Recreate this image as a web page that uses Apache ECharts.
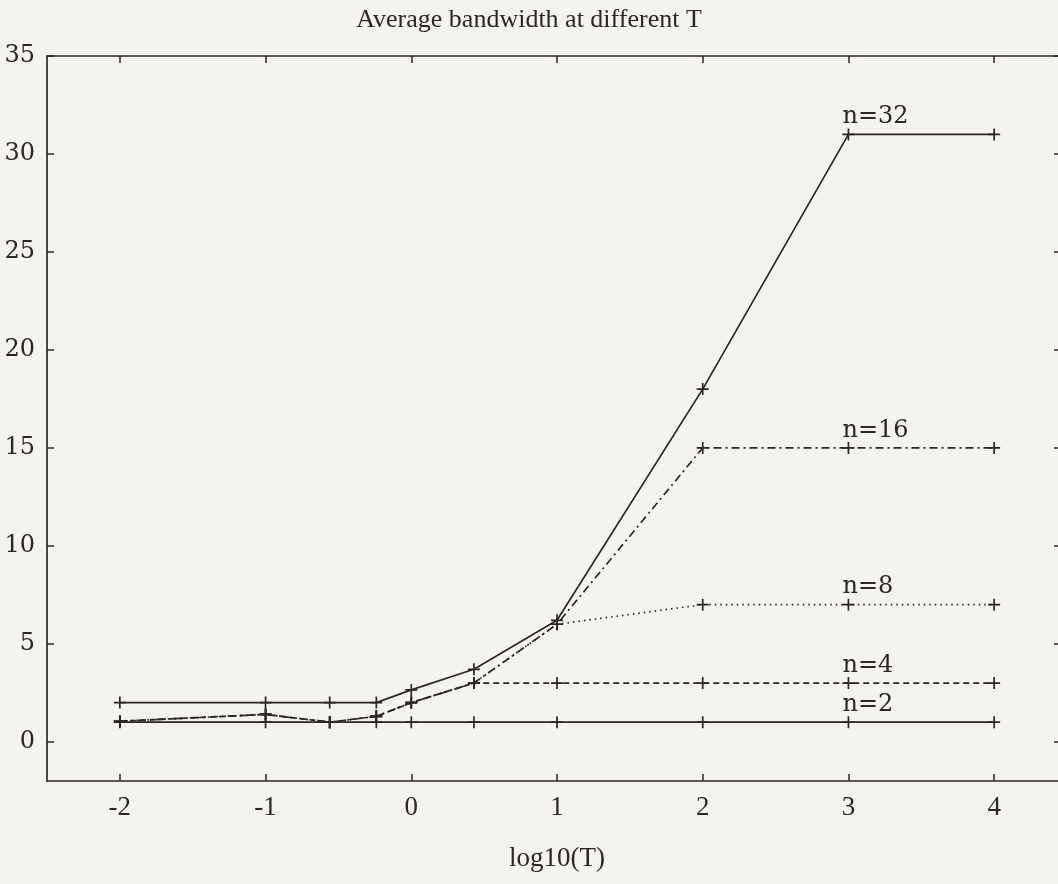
<!DOCTYPE html>
<html>
<head>
<meta charset="utf-8">
<script src="https://cdn.jsdelivr.net/npm/echarts@6/dist/echarts.min.js"></script>
<style>
    html, body { margin: 0; padding: 0; background: #f4f3f0; }
    #main { width: 1058px; height: 884px; }
</style>
</head>
<body>
<div id="main"></div>
<script>
// log10(T) sample points
var logT = [-2, -1, -0.56, -0.24, 0, 0.43, 1, 2, 3, 4];
// average bandwidth per n
var n2  = [1, 1, 1, 1, 1, 1, 1, 1, 1, 1];
var n4  = [1.05, 1.4, 1, 1.3, 2, 3, 3, 3, 3, 3];
var n8  = [1.05, 1.4, 1, 1.3, 2, 3, 6, 7, 7, 7];
var n16 = [1.05, 1.4, 1, 1.3, 2, 3, 6, 15, 15, 15];
var n32 = [2, 2, 2, 2, 2.65, 3.7, 6.2, 18, 31, 31];
var xTicks = [-2, -1, 0, 1, 2, 3, 4];
var yTicks = [0, 5, 10, 15, 20, 25, 30, 35];

var ink = '#2b2727';
var times = 'Liberation Serif';
var wide = 'DejaVu Serif';
var cross = 'path://M0,6L12,6M6,0L6,12';

//拼数据
function pairs(ys) {
    var out = [];
    for (var i = 0; i < logT.length; i++) {
        out.push([logT[i], ys[i]]);
    }
    return out;
}

function makeSeries(name, ys, dash) {
    return {
        name: name,
        type: 'line',
        data: pairs(ys),
        symbol: cross,
        symbolSize: 12,
        itemStyle: { color: 'none', borderColor: ink, borderWidth: 1.7 },
        lineStyle: { color: ink, width: 1.7, type: dash },
        label: {
            show: true,
            formatter: function (p) { return p.dataIndex == 8 ? name : ''; },
            position: 'top',
            align: 'left',
            distance: 0,
            offset: [-6, 3],
            fontFamily: wide,
            fontSize: 24,
            color: ink
        },
        emphasis: { disabled: true },
        animation: false
    };
}

var chart = echarts.init(document.getElementById('main'));
var axisBase = {
    type: 'value',
    axisLine: { show: true, onZero: false, lineStyle: { color: ink, width: 1.7 } },
    axisTick: { show: true, inside: true, length: 7, lineStyle: { color: ink, width: 1.5 } },
    splitLine: { show: false }
};
var option = {
    backgroundColor: '#f4f3f0',
    title: {
        text: 'Average bandwidth at different T',
        left: 'center',
        top: 2,
        textStyle: { fontFamily: times, fontSize: 26, fontWeight: 'normal', color: ink }
    },
    grid: { left: 47, width: 1020, top: 56, bottom: 103, outerBoundsMode: 'none' },
    xAxis: [
        echarts.util.merge({
            position: 'bottom', min: -2.5, max: 4.5,
            name: 'log10(T)', nameLocation: 'middle', nameGap: 64,
            nameTextStyle: { fontFamily: times, fontSize: 27, color: ink },
            axisTick: { customValues: xTicks },
            axisLabel: { customValues: xTicks, margin: 13, fontFamily: times, fontSize: 27, color: ink }
        }, axisBase, false),
        echarts.util.merge({
            position: 'top', min: -2.5, max: 4.5,
            axisTick: { customValues: xTicks },
            axisLabel: { show: false }
        }, axisBase, false)
    ],
    yAxis: [
        echarts.util.merge({
            position: 'left', min: -2, max: 35,
            axisTick: { customValues: yTicks },
            axisLabel: { customValues: yTicks, margin: 12, fontFamily: wide, fontSize: 24, color: ink }
        }, axisBase, false),
        echarts.util.merge({
            position: 'right', min: -2, max: 35,
            axisTick: { customValues: yTicks, length: 13 },
            axisLabel: { show: false }
        }, axisBase, false)
    ],
    series: [
        makeSeries('n=2', n2, 'solid'),
        makeSeries('n=4', n4, [6, 4]),
        makeSeries('n=8', n8, [1.5, 4]),
        makeSeries('n=16', n16, [8, 4, 2, 4]),
        makeSeries('n=32', n32, 'solid')
    ]
};
chart.setOption(option);
</script>
</body>
</html>
